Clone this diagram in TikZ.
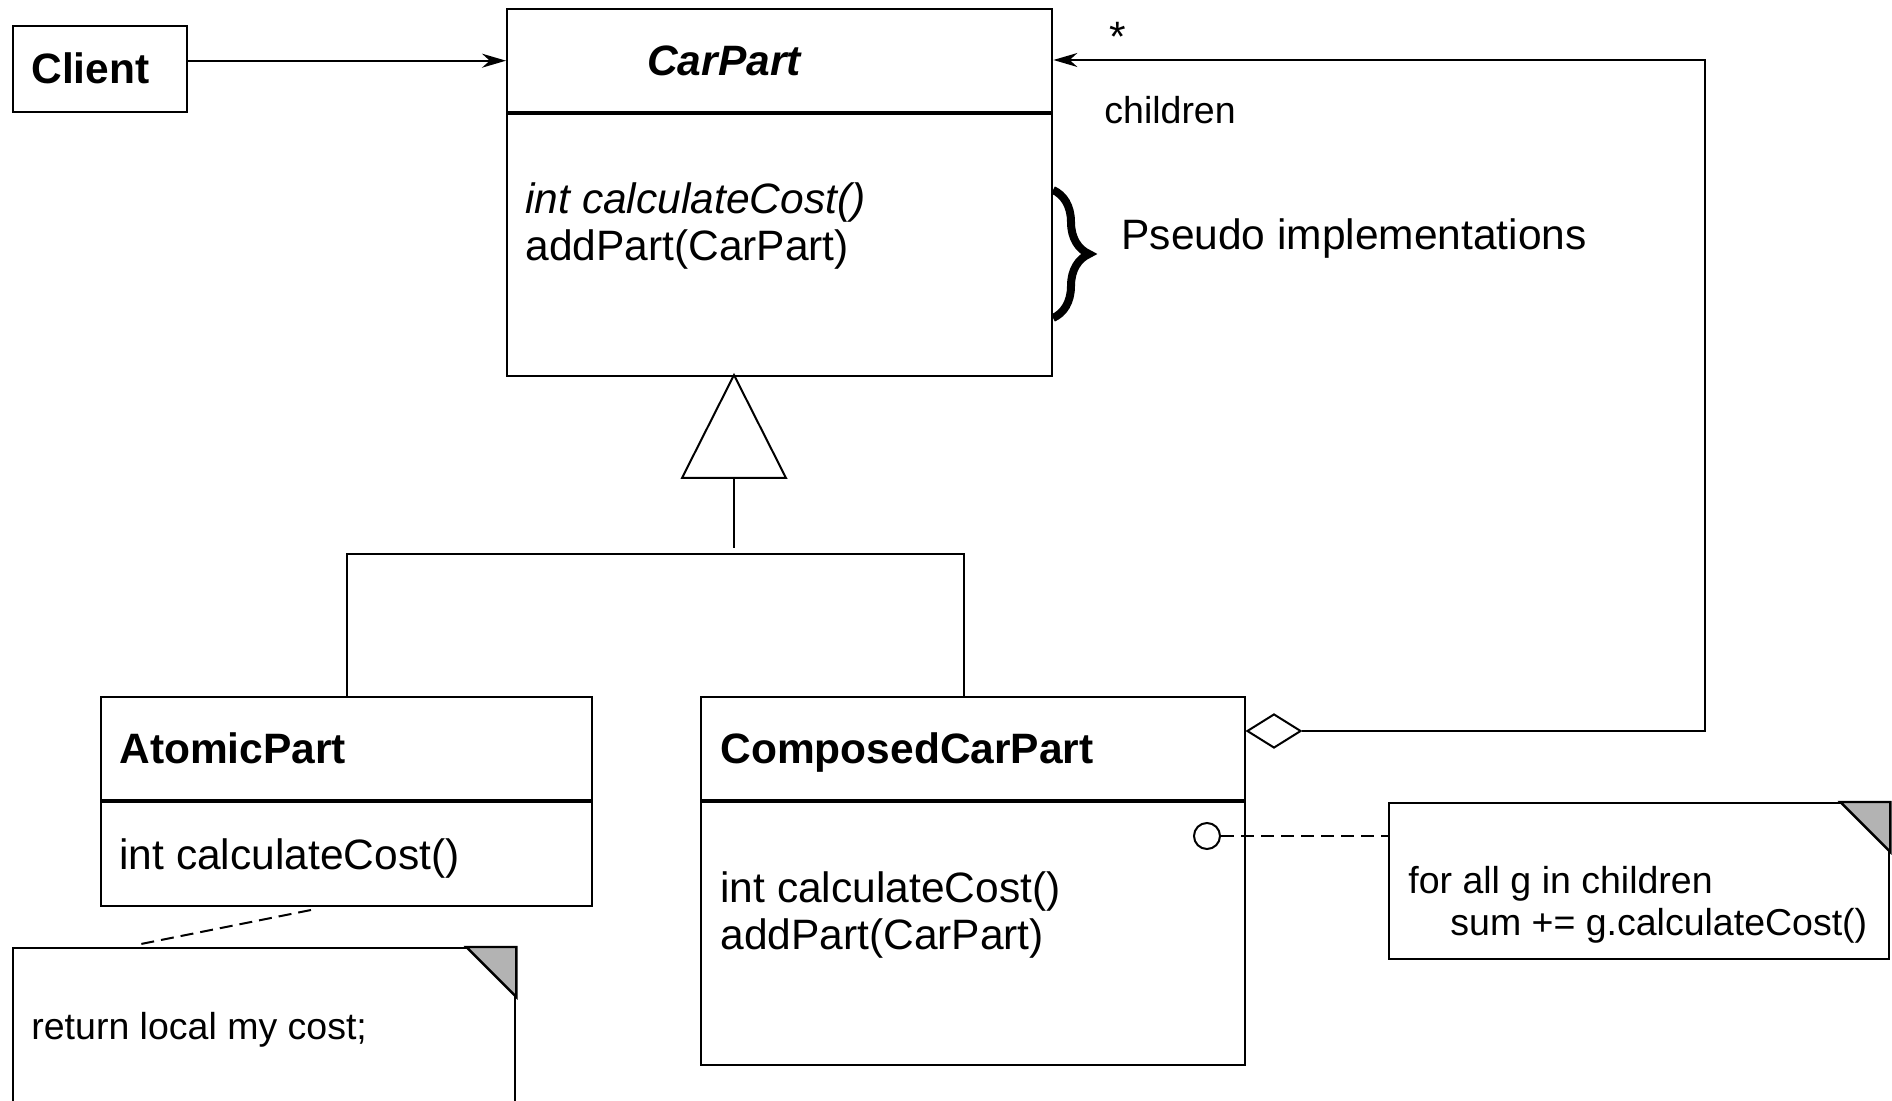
\documentclass[tikz,border=0pt]{standalone}
\usepackage{fontspec}
\setmainfont{Liberation Sans}
\usetikzlibrary{shapes.geometric,arrows.meta,decorations.pathreplacing,calc}
\definecolor{foldgray}{HTML}{B3B3B3}
\tikzstyle{classbox} = [rectangle, draw=black, line width=1.2pt, inner sep=0pt, anchor=north west]
\tikzstyle{notebox} = [rectangle, draw=black, line width=1.2pt, inner sep=0pt, anchor=north west, fill=white]
\tikzstyle{bigtext} = [font=\fontsize{21.25}{23.5}\selectfont, inner sep=0pt, anchor=west, align=left]
\tikzstyle{boldtext} = [font=\fontsize{21.25}{23.5}\selectfont\bfseries, inner sep=0pt, anchor=west]
\tikzstyle{smalltext} = [font=\fontsize{18.75}{21}\selectfont, inner sep=0pt, anchor=west, align=left]
\tikzstyle{arrow} = [line width=1pt, -{Stealth[length=12pt,width=7pt]}]
\tikzstyle{link} = [line width=1pt]
\tikzstyle{notelink} = [line width=1pt, dash pattern=on 6.5pt off 3.5pt]

\begin{document}
\begin{tikzpicture}[x=0.5pt,y=-0.5pt]
\useasboundingbox (0,0) rectangle (1892,1101);
\clip (0,0) rectangle (1892,1101);

% classes
\node (client) [classbox, minimum width=87pt, minimum height=43pt] at (12,25) {};
\node (carhead) [classbox, minimum width=272.5pt, minimum height=51.5pt] at (506,8) {};
\node (carbody) [classbox, minimum width=272.5pt, minimum height=131pt] at (506,113) {};
\node (atomhead) [classbox, minimum width=245.5pt, minimum height=51.5pt] at (100,696) {};
\node (atombody) [classbox, minimum width=245.5pt, minimum height=52pt] at (100,801) {};
\node (comphead) [classbox, minimum width=272pt, minimum height=51.5pt] at (700,696) {};
\node (compbody) [classbox, minimum width=272pt, minimum height=131.5pt] at (700,801) {};

\node (clientname) [boldtext] at (31,68) {Client};
\node (carname) [boldtext, anchor=center, font=\fontsize{21.25}{23.5}\selectfont\bfseries\itshape] at (724,61) {CarPart};
\node (carops) [bigtext] at (525,226.5) {\textit{int calculateCost()}\\addPart(CarPart)};
\node (atomname) [boldtext] at (119,748) {AtomicPart};
\node (atomops) [bigtext] at (119,858) {int calculateCost()};
\node (compname) [boldtext] at (720,753) {ComposedCarPart};
\node (compops) [bigtext] at (720,914.5) {int calculateCost()\\addPart(CarPart)};

% pseudo implementations
\draw [line width=4pt, decorate, decoration={brace, amplitude=18pt}] (1053,190) -- (1053,318);
\node (pseudo) [bigtext] at (1121,239) {Pseudo implementations};

% notes
\node (notecalc) [notebox, minimum width=250pt, minimum height=78pt] at (1388,802) {};
\node (noteret) [notebox, minimum width=251pt, minimum height=100pt] at (12,947) {};
\foreach \n in {notecalc,noteret}
  \filldraw [fill=foldgray, line width=1.2pt] ([xshift=-25pt]\n.north east) -- (\n.north east) -- ([yshift=-25pt]\n.north east) -- cycle;
\node (calctext) [smalltext] at (1408,905) {for all g in children\\\hspace*{21pt}sum += g.calculateCost()};
\node (rettext) [smalltext] at (31,1030) {return local my cost;};

% client
\draw [arrow] (client.east |- carhead.west) -- (carhead.west);

% generalization
\coordinate (apex) at (734,375);
\coordinate (genbase) at (734,478);
\coordinate (compjoin) at (964,696);
\draw [link] (apex) -- ++(52,103) -- ++(-104,0) -- cycle;
\draw [link] (genbase) -- ++(0,70);
\draw [link] (atomhead.north) -- ++(0,-142) -| (compjoin);

% aggregation
\node (agg) [diamond, draw, line width=1pt, inner sep=0pt, minimum width=27pt, minimum height=17pt, anchor=west] at (1246,731) {};
\coordinate (bend) at (1705,60);
\draw [arrow] (agg.east) -| (bend) -- (bend -| carhead.east);
\node (mult) [bigtext] at (1109,37) {*};
\node (role) [smalltext] at (1104,110) {children};

% note links
\node (port) [circle, draw, line width=1pt, minimum size=13pt, inner sep=0pt] at (1207,836) {};
\draw [notelink] (port.east) -- (port.east -| notecalc.west);
\coordinate (retfrom) at (311,910);
\coordinate (retto) at (141,944);
\draw [notelink] (retfrom) -- (retto);

\end{tikzpicture}
\end{document}
